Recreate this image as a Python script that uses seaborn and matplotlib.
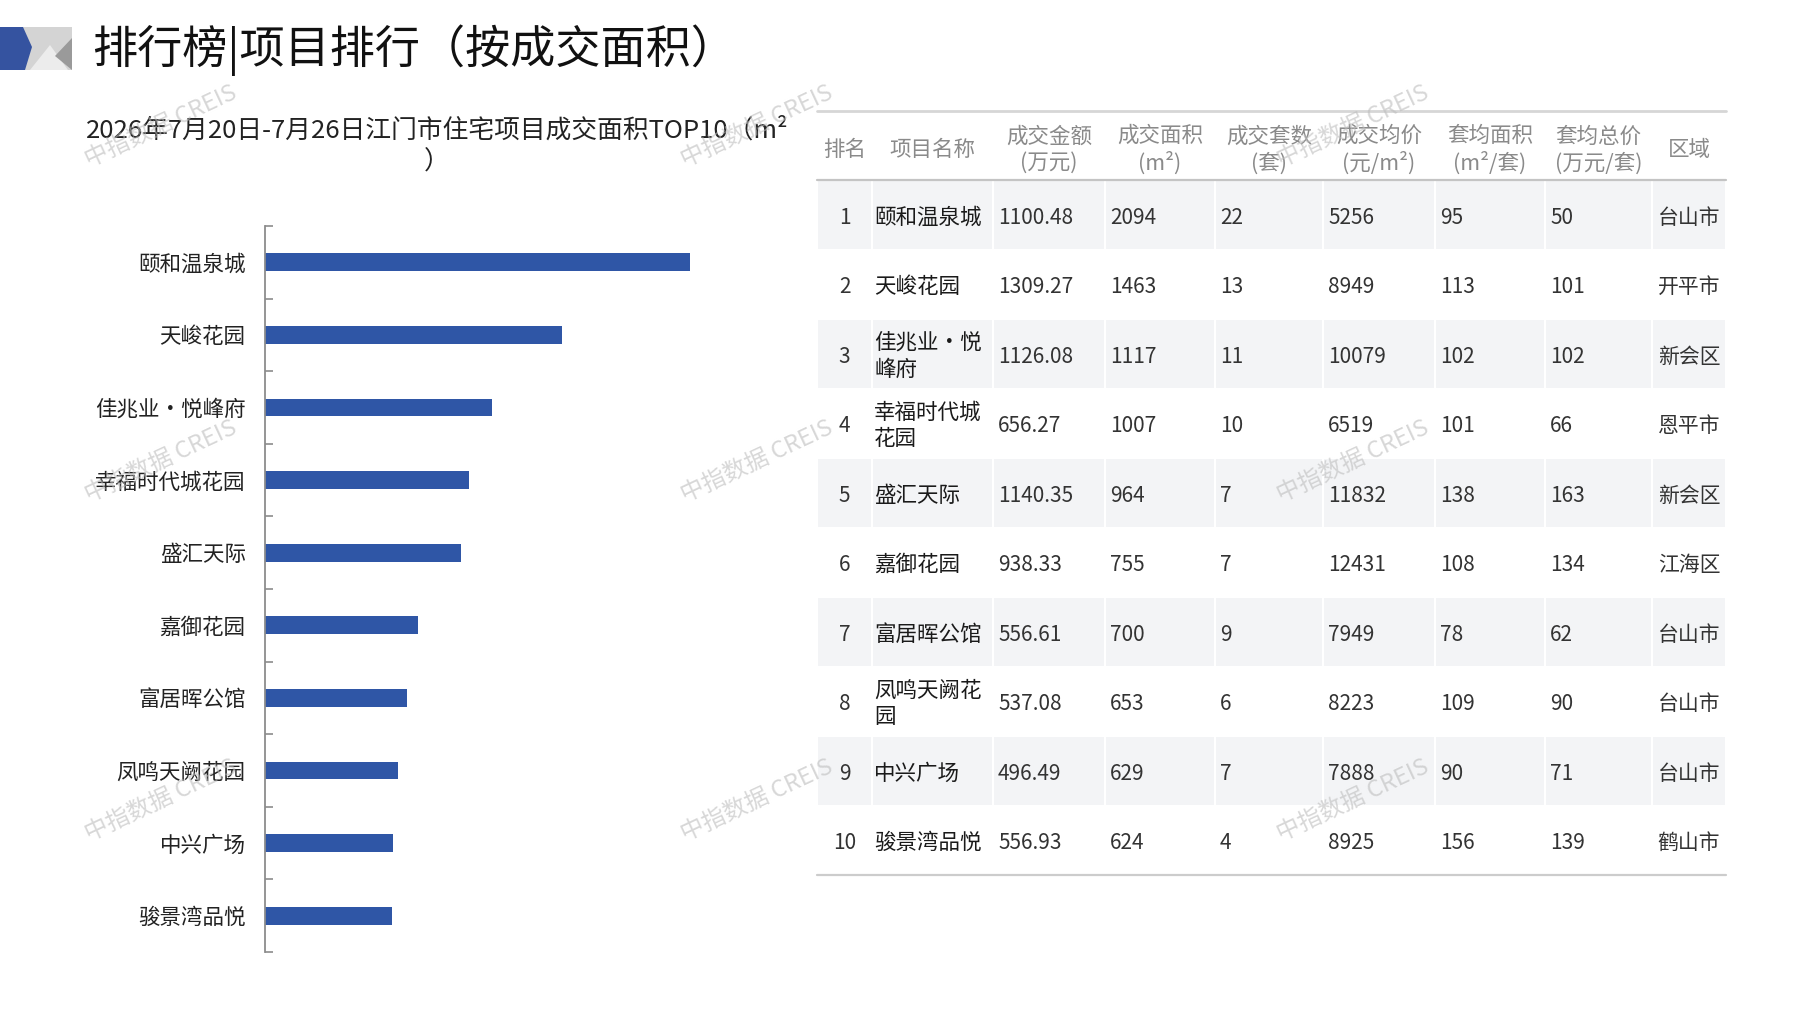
import numpy as np
import matplotlib
matplotlib.use('Agg')
import matplotlib.pyplot as plt
from matplotlib.patches import Polygon, Rectangle
import seaborn as sns

# data
ranks = [1, 2, 3, 4, 5, 6, 7, 8, 9, 10]
names = ['颐和温泉城', '天峻花园', '佳兆业·悦峰府', '幸福时代城花园', '盛汇天际',
         '嘉御花园', '富居晖公馆', '凤鸣天阙花园', '中兴广场', '骏景湾品悦']
amounts = ['1100.48', '1309.27', '1126.08', '656.27', '1140.35',
           '938.33', '556.61', '537.08', '496.49', '556.93']
areas = [2094, 1463, 1117, 1007, 964, 755, 700, 653, 629, 624]
units = [22, 13, 11, 10, 7, 7, 9, 6, 7, 4]
prices = [5256, 8949, 10079, 6519, 11832, 12431, 7949, 8223, 7888, 8925]
avg_areas = [95, 113, 102, 101, 138, 108, 78, 109, 90, 156]
avg_totals = [50, 101, 102, 66, 163, 134, 62, 90, 71, 139]
regions = ['台山市', '开平市', '新会区', '恩平市', '新会区', '江海区', '台山市', '台山市', '台山市', '鹤山市']

headers = ['排名', '项目名称', '成交金额\n(万元)', '成交面积\n(m²)', '成交套数\n(套)',
           '成交均价\n(元/m²)', '套均面积\n(m²/套)', '套均总价\n(万元/套)', '区域']

title = '排行榜|项目排行（按成交面积）'
subtitle = '2026年7月20日-7月26日江门市住宅项目成交面积TOP10（m²\n）'
watermark = '中指数据 CREIS'

sns.set_style('white')
plt.rcParams['font.family'] = ['Noto Sans CJK SC', 'DejaVu Sans']

W, H = 1797, 1010
fig = plt.figure(figsize=(W / 100, H / 100), dpi=100)

# bar chart
bar_blue = '#2F56A6'
ax = fig.add_axes([265 / W, 1 - 952 / H, 528 / W, (952 - 226) / H])
sns.barplot(x=areas, y=names, orient='h', color=bar_blue, width=0.245,
            linewidth=0, saturation=1, ax=ax)
ax.set_xlim(0, 2600)
ax.set_ylim(9.5, -0.5)
ax.set_xlabel('')
ax.set_ylabel('')
for s in ['top', 'right', 'bottom']:
    ax.spines[s].set_visible(False)
ax.spines['left'].set_color('#8c8c8c')
ax.spines['left'].set_linewidth(1.3)
ax.set_xticks([])
ax.set_yticks(np.arange(-0.5, 10, 1), minor=True)
ax.tick_params(axis='y', which='major', length=0, pad=14, labelsize=15.5, labelcolor='#222222')
ax.tick_params(axis='y', which='minor', length=6, width=1.2, color='#8c8c8c', direction='in', left=True)
ax.set_facecolor('none')

# overlay in pixel coords for header, table and watermark
ov = fig.add_axes([0, 0, 1, 1])
ov.set_xlim(0, W)
ov.set_ylim(H, 0)
ov.axis('off')
ov.patch.set_alpha(0)

# logo
ov.add_patch(Rectangle((0, 27), 72, 43, color='#d4d4d4', lw=0))
ov.add_patch(Polygon([(30, 70), (50, 45), (68, 70)], color='#ececec', lw=0))
ov.add_patch(Polygon([(72, 38), (72, 70), (55, 56)], color='#9a9a9a', lw=0))
ov.add_patch(Polygon([(0, 27), (23, 27), (32, 47), (25, 70), (0, 70)], color='#3553A0', lw=0))

ov.text(92, 50, title, fontsize=32.5, va='center', ha='left', color='#111111')
ov.text(437, 147, subtitle, fontsize=18.5, va='center', ha='center',
        multialignment='center', linespacing=1.3, color='#222222')

# table
bounds = [817, 872, 993, 1105, 1215, 1323, 1435, 1545, 1652, 1726]
top_y, head_y, row_h = 111, 180, 69.5
ov.plot([bounds[0], bounds[-1]], [top_y, top_y], color='#d6d6d6', lw=2)
ov.plot([bounds[0], bounds[-1]], [head_y, head_y], color='#c4c4c4', lw=1.6)
ov.plot([bounds[0], bounds[-1]], [head_y + row_h * 10, head_y + row_h * 10], color='#cccccc', lw=1.6)

for j, h in enumerate(headers):
    cx = (bounds[j] + bounds[j + 1]) / 2
    ov.text(cx, 150, h, fontsize=15.5, ha='center', va='center', color='#8a8a8a',
            linespacing=1.25, multialignment='center')

for i in range(10):
    y0 = head_y + row_h * i
    yc = y0 + row_h / 2 + 3
    if i % 2 == 0:
        for j in range(len(bounds) - 1):
            ov.add_patch(Rectangle((bounds[j] + 1, y0 + 1), bounds[j + 1] - bounds[j] - 2,
                                   row_h - 2, color='#f3f4f6', lw=0, zorder=0))
    nm = names[i] if len(names[i]) <= 5 else names[i][:5] + '\n' + names[i][5:]
    ov.text((bounds[0] + bounds[1]) / 2, yc, str(ranks[i]), fontsize=15, ha='center', va='center', color='#333333')
    ov.text(bounds[1] + 2, yc, nm, fontsize=15.5, ha='left', va='center', color='#1a1a1a', linespacing=1.25)
    vals = [amounts[i], areas[i], units[i], prices[i], avg_areas[i], avg_totals[i]]
    for k, v in enumerate(vals):
        ov.text(bounds[2 + k] + 5, yc, str(v), fontsize=15, ha='left', va='center', color='#333333')
    ov.text((bounds[8] + bounds[9]) / 2, yc, regions[i], fontsize=15, ha='center', va='center', color='#333333')

# watermarks
for wx in [161, 757, 1353]:
    for wy in [126, 461, 800]:
        ov.text(wx, wy, watermark, fontsize=17, rotation=25, ha='center', va='center',
                color='#bdbdbd', alpha=0.6, zorder=10)

fig.savefig('out.png', dpi=100)
